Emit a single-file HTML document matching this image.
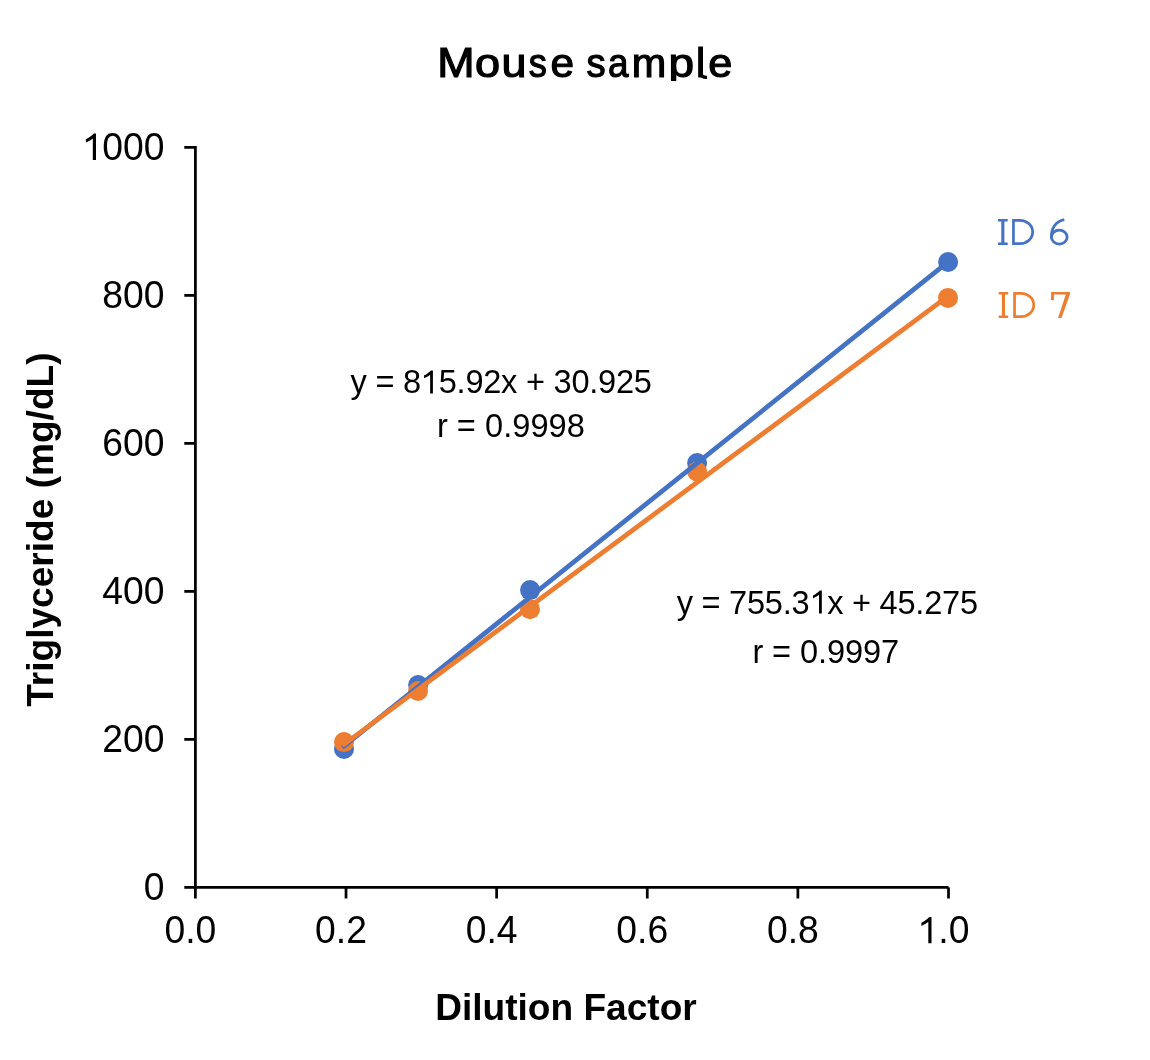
<!DOCTYPE html><html><head><meta charset="utf-8"><style>html,body{margin:0;padding:0;background:#fff;overflow:hidden}svg{display:block;will-change:transform}</style></head><body>
<svg width="1150" height="1060" viewBox="0 0 1150 1060" font-family="Liberation Sans, sans-serif">
<rect width="1150" height="1060" fill="#fff"/>
<defs><clipPath id="tc"><rect x="0" y="0" width="1150" height="81"/></clipPath></defs>
<g clip-path="url(#tc)" fill="#000" stroke="#000" stroke-width="1.2" font-size="41.3">
<text transform="translate(437.17 77.4) scale(1.086 1.035)">M</text>
<text transform="translate(475.06 77.4) scale(1.092 0.975)">o</text>
<text transform="translate(501.43 77.4) scale(1.088 0.975)">u</text>
<text transform="translate(528.81 77.4) scale(0.875 0.975)">s</text>
<text transform="translate(550.54 77.4) scale(1.024 0.975)">e</text>
<text transform="translate(586.48 77.4) scale(0.927 0.975)">s</text>
<text transform="translate(608.09 77.4) scale(0.892 0.975)">a</text>
<text transform="translate(631.67 77.4) scale(1.002 0.975)">m</text>
<text transform="translate(668.43 77.4) scale(1.112 0.975)">p</text>
<text transform="translate(695.93 77.4) scale(1.000 1.0)">l</text>
<text transform="translate(708.21 77.4) scale(1.048 0.975)">e</text>
</g>
<path d="M700.6 72.5Q701 77.6 707 77.4" fill="none" stroke="#000" stroke-width="3.2" clip-path="url(#tc)"/>
<g stroke="#000" stroke-width="2.75" fill="none">
<path d="M195.4 146.025V887.4M194.025 887.4H948.5"/>
<path d="M184.3 887.40H195.4"/>
<path d="M184.3 739.40H195.4"/>
<path d="M184.3 591.40H195.4"/>
<path d="M184.3 443.40H195.4"/>
<path d="M184.3 295.40H195.4"/>
<path d="M184.3 147.40H195.4"/>
<path d="M195.40 887.4V898.5"/>
<path d="M346.02 887.4V898.5"/>
<path d="M496.64 887.4V898.5"/>
<path d="M647.26 887.4V898.5"/>
<path d="M797.88 887.4V898.5"/>
<path d="M948.50 887.4V898.5"/>
</g>
<g font-size="37.3" fill="#000" text-anchor="end">
<text transform="translate(164.5 899.90) scale(1 1.04)">0</text>
<text transform="translate(164.5 751.90) scale(1 1.04)">200</text>
<text transform="translate(164.5 603.90) scale(1 1.04)">400</text>
<text transform="translate(164.5 455.90) scale(1 1.04)">600</text>
<text transform="translate(164.5 307.90) scale(1 1.04)">800</text>
<text transform="translate(164.5 159.90) scale(1 1.04)"><tspan fill="transparent">1</tspan>000</text>
</g>
<g font-size="37.3" fill="#000" text-anchor="middle">
<text transform="translate(190.40 943.3) scale(1 1.04)">0.0</text>
<text transform="translate(341.02 943.3) scale(1 1.04)">0.2</text>
<text transform="translate(491.64 943.3) scale(1 1.04)">0.4</text>
<text transform="translate(642.26 943.3) scale(1 1.04)">0.6</text>
<text transform="translate(792.88 943.3) scale(1 1.04)">0.8</text>
<text transform="translate(943.50 943.3) scale(1 1.04)"><tspan fill="transparent">1</tspan>.0</text>
</g>
<path fill="#000" d="M96.00 159.90V133.60H93.80C92.23 135.28 88.88 137.89 85.89 139.27V142.52C88.13 141.62 91.11 139.94 92.83 138.45V159.90Z"/>
<path fill="#000" d="M931.50 943.30V917.00H929.30C927.73 918.68 924.38 921.29 921.39 922.67V925.92C923.63 925.02 926.61 923.34 928.33 921.85V943.30Z"/>
<text x="435.2" y="1020.4" font-size="37.1" font-weight="bold" fill="#000">Dilution Factor</text>
<text transform="translate(53.1 706.8) rotate(-90)" font-size="37.1" font-weight="bold" fill="#000">Triglyceride (mg/dL)</text>
<circle cx="344.0" cy="748.9" r="10" fill="#4472C4"/>
<circle cx="418.1" cy="685.0" r="10" fill="#4472C4"/>
<circle cx="530.05" cy="590.1" r="10" fill="#4472C4"/>
<circle cx="697.1" cy="463.1" r="10" fill="#4472C4"/>
<circle cx="948.1" cy="262.0" r="10" fill="#4472C4"/>
<circle cx="344.0" cy="742.1" r="10" fill="#ED7D31"/>
<circle cx="418.0" cy="691.0" r="10" fill="#ED7D31"/>
<circle cx="530.0" cy="609.2" r="10" fill="#ED7D31"/>
<circle cx="697.0" cy="471.5" r="10" fill="#ED7D31"/>
<circle cx="948.0" cy="297.9" r="10" fill="#ED7D31"/>
<line x1="344.0" y1="746.18" x2="948.1" y2="261.86" stroke="#4472C4" stroke-width="4.75" stroke-linecap="round"/>
<line x1="344.0" y1="744.41" x2="948.1" y2="296.06" stroke="#ED7D31" stroke-width="4.75" stroke-linecap="round"/>
<g font-size="32.6" fill="#000" lengthAdjust="spacing">
<text x="350.6" y="393.4" textLength="301.3" lengthAdjust="spacing">y = 8<tspan fill="transparent">1</tspan>5.92x + 30.925</text>
<text x="436.9" y="436.8" textLength="147.9" lengthAdjust="spacing">r = 0.9998</text>
<text x="676.7" y="613.6" textLength="301.3" lengthAdjust="spacing">y = 755.3<tspan fill="transparent">1</tspan>x + 45.275</text>
<text x="752.4" y="662.6" textLength="146.7" lengthAdjust="spacing">r = 0.9997</text>
</g>
<path fill="#000" d="M432.90 393.40V370.42H430.98C429.61 371.88 426.67 374.17 424.07 375.37V378.21C426.02 377.43 428.63 375.96 430.13 374.65V393.40Z"/>
<path fill="#000" d="M821.80 613.60V590.62H819.88C818.51 592.08 815.57 594.37 812.97 595.57V598.41C814.92 597.63 817.53 596.16 819.03 594.86V613.60Z"/>
<path fill="#4472C4" d="M998.00 219.00H1007.70V221.40H1004.40V242.60H1007.70V245.00H998.00V242.60H1001.30V221.40H998.00Z"/>
<path fill="#4472C4" fill-rule="evenodd" d="M1012.10 219.00H1020.10A13.90 13.00 0 0 1 1020.10 245.00H1012.10ZM1014.80 221.70H1020.10A11.20 10.30 0 0 1 1020.10 242.30H1014.80Z"/>
<g fill="none" stroke="#4472C4" stroke-width="2.8"><ellipse cx="1059.3" cy="237.1" rx="7.85" ry="6.95"/><path d="M1051.5 238.5C1050.6 228.5 1055.5 221.5 1064.3 219.6"/></g>
<path fill="#ED7D31" d="M998.70 292.00H1008.20V294.40H1005.00V315.60H1008.20V318.00H998.70V315.60H1001.90V294.40H998.70Z"/>
<path fill="#ED7D31" fill-rule="evenodd" d="M1013.20 292.00H1021.20A13.90 13.00 0 0 1 1021.20 318.00H1013.20ZM1015.90 294.70H1021.20A11.20 10.30 0 0 1 1021.20 315.30H1015.90Z"/>
<path fill="#ED7D31" d="M1051.1 292H1069.9V294.4L1061.5 317.9H1058.0L1065.8 294.4H1053.9V300.3H1051.1Z"/>
</svg></body></html>
